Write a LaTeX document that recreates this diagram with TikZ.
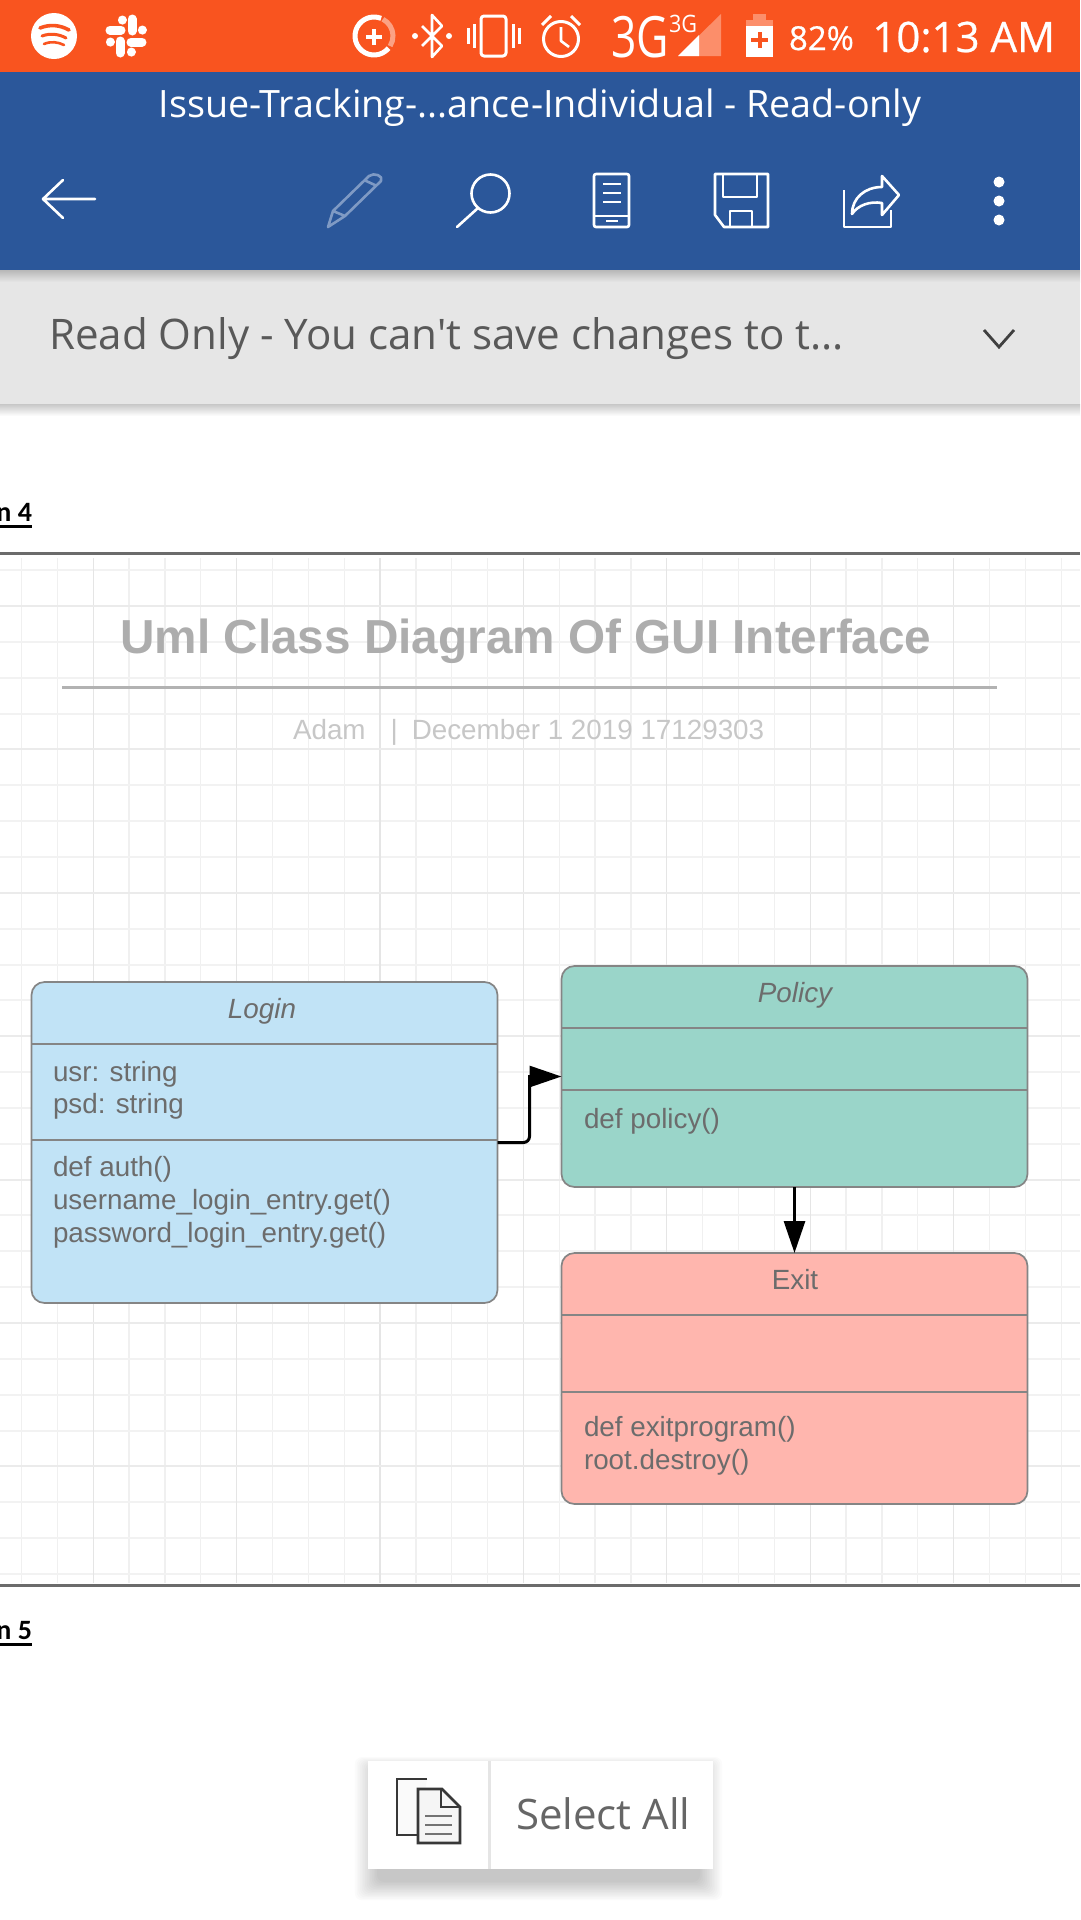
\documentclass[tikz,border=0pt]{standalone}
\usepackage{fontspec}
\usepackage{graphicx}
\setmainfont{Open Sans}
\newfontfamily\osraw{Open Sans}
\newfontfamily\osmed[FakeBold=0.6]{Open Sans}
\newfontfamily\libsans{Liberation Sans}
\newfontfamily\carl{Carlito}
\usetikzlibrary{arrows.meta}
\newcommand{\pxf}[1]{\fontsize{#1}{#1}\selectfont}
\definecolor{statusbar}{HTML}{F9541F}
\definecolor{wordblue}{HTML}{2B579A}
\definecolor{readbar}{HTML}{E6E6E6}
\definecolor{pencilblue}{HTML}{7F9AC4}
\definecolor{dimorange}{HTML}{FC8E6A}
\definecolor{loginfill}{HTML}{C1E3F6}
\definecolor{policyfill}{HTML}{9AD5C9}
\definecolor{exitfill}{HTML}{FFB6AE}
\definecolor{boxline}{HTML}{858585}
\definecolor{boxtext}{HTML}{6C6C6C}
\tikzset{
  txt/.style={inner sep=0pt,outer sep=0pt},
  uml/.style={draw=boxline,line width=1.7pt,rounded corners=13pt,inner sep=0pt,outer sep=0pt,minimum width=466pt},
  umldiv/.style={draw=boxline,line width=1.7pt},
  umltxt/.style={txt,anchor=base west,text=boxtext,font=\libsans\pxf{27.8}},
  umlhead/.style={txt,anchor=base,text=boxtext,font=\libsans\pxf{27.8}},
  minorv/.style={draw=black!6,line width=1.3pt},
  minorh/.style={draw=black!5,line width=2pt},
  majorv/.style={draw=black!10,line width=1.3pt},
  majorh/.style={draw=black!8,line width=2pt},
  icon/.style={draw=white,line width=2.6pt,line join=round},
  conn/.style={draw=black,line width=3pt,-{Triangle[length=32pt,width=21pt]}},
}
\begin{document}
\begin{tikzpicture}[x=1pt,y=-1pt]
\useasboundingbox (0,0) rectangle (1080,1920);
\fill[white] (0,0) rectangle (1080,1920);
% bars
\fill[readbar] (0,270) rectangle (1080,404);
\shade[top color=black!28,bottom color=readbar] (0,270) rectangle (1080,282);
\shade[top color=black!22,bottom color=white] (0,404) rectangle (1080,416);
\fill[statusbar] (0,0) rectangle (1080,72);
\fill[wordblue] (0,72) rectangle (1080,270);
% status icons
\fill[white] (54,36) circle (23);
\draw[statusbar,line width=3.6pt,line cap=round] (40,28) .. controls (50,24) and (60,25) .. (69,30);
\draw[statusbar,line width=3pt,line cap=round] (42,36) .. controls (50,33) and (59,34) .. (66,38);
\draw[statusbar,line width=2.6pt,line cap=round] (44,44) .. controls (51,41) and (58,42) .. (64,45);
\begin{scope}[white,line width=9pt,line cap=round]
\draw (110,30) -- (121,30); \draw (122,20) -- (122,20.1);
\draw (132,19) -- (132,31); \draw (142,30) -- (142,30.1);
\draw (131,42) -- (142,42); \draw (131,52) -- (131,52.1);
\draw (120,41) -- (120,53); \draw (110,42) -- (110,42.1);
\end{scope}
\draw[white,line width=5pt] (374,36) ++(40:19) arc (40:292:19);
\draw[white,opacity=.45,line width=5pt] (374,36) ++(-62:19) arc (-62:32:19);
\draw[white,line width=3.5pt] (366,37) -- (382,37) (374,29) -- (374,45);
\draw[icon] (422,26) -- (442,46) -- (432,57) -- (432,15) -- (442,26) -- (422,46);
\fill[white] (415,36) circle (3) (449,36) circle (3);
\draw[icon,line width=3pt,rounded corners=3pt] (481,16) rectangle (506,56);
\draw[icon,line width=3pt] (474,24) -- (474,48) (513,24) -- (513,48) (468,28) -- (468,44) (519,28) -- (519,44);
\draw[icon,line width=3pt] (561,39) circle (17.5);
\draw[icon,line width=2.6pt] (561,27) -- (561,41) -- (569,47);
\draw[icon,line width=3pt] (542,25) -- (551,16) (571,16) -- (580,25);
\node[txt,anchor=base west,text=white,font=\pxf{57}] (tg) at (611,57) {\scalebox{.78}[1]{3G}};
\node[txt,anchor=base west,text=white,font=\pxf{24}] (tgs) at (669,32) {\scalebox{.9}[1]{3G}};
\fill[dimorange] (678,56) -- (721,14) -- (721,56) -- cycle;
\fill[white] (678,56) -- (699,35) -- (699,56) -- cycle;
\fill[dimorange] (753,14) rectangle (766,20);
\fill[dimorange] (746,20) rectangle (773,26);
\fill[white] (746,26) rectangle (773,57);
\draw[statusbar,line width=4pt] (751,40) -- (768,40) (759.5,32) -- (759.5,48);
\node[txt,anchor=base west,text=white,font=\osmed\pxf{33}] (batt) at (789,50) {82\%};
\node[txt,anchor=base east,text=white,font=\osmed\pxf{42}] (clock) at (1055,52) {10:13 AM};
% title bar
\node[txt,anchor=base,text=white,font=\pxf{37.7}] (doctitle) at (540,117) {Issue-Tracking-...ance-Individual - Read-only};
% toolbar icons
\draw[icon,line cap=round] (95,199) -- (43,199) (63,180) -- (43,199) -- (63,218);
\draw[pencilblue,line width=2.6pt,line join=round] (328,227) -- (333,211) -- (369,176) .. controls (374,172) and (384,176) .. (381,181) -- (345,216) -- cycle (333,211) -- (345,216) (364,180) -- (377,186);
\draw[icon] (490.5,193.5) circle (19);
\draw[icon,line cap=round] (478,208) -- (457,227);
\draw[icon,rounded corners=2pt] (594,174) rectangle (629,227);
\draw[icon] (603,184) -- (621,184) (603,193) -- (621,193) (603,202) -- (621,202) (594,216) -- (629,216) (606,221) -- (618,221);
\draw[icon] (715,174) -- (768,174) -- (768,227) -- (724,227) -- (715,215) -- cycle;
\draw[icon] (723,174) -- (723,197) -- (757,197) -- (757,174) (730,227) -- (730,211) -- (752,211) -- (752,227);
\draw[icon] (844,190) -- (844,227) -- (891,227) -- (891,210);
\draw[icon] (852,214) .. controls (852,198) and (865,187) .. (882,187) -- (882,176) -- (899,195) -- (882,215) -- (882,203) .. controls (870,201) and (858,205) .. (852,214) -- cycle;
\fill[white] (999,182) circle (5.5) (999,201) circle (5.5) (999,220) circle (5.5);
% read only bar
\node[txt,anchor=base west,text=black!65,font=\osraw\pxf{42.1}] (readonly) at (49,349) {Read Only - You can't save changes to t...};
\draw[black!75,line width=2.8pt] (984,330) -- (999,347) -- (1014,330);
% section labels
\node[txt,anchor=base east,text=black,font=\carl\pxf{28}\bfseries] (sec4) at (32,521) {n 4};
\draw[black,line width=2.5pt] (0,526.5) -- (32,526.5);
\node[txt,anchor=base east,text=black,font=\carl\pxf{28}\bfseries] (sec5) at (32,1639) {n 5};
\draw[black,line width=2.5pt] (0,1644.5) -- (32,1644.5);
% grid
\foreach \k in {0,...,29} \draw[minorv] ({21.5+35.85*\k},558) -- ({21.5+35.85*\k},1583);
\foreach \k in {-1,...,27} \draw[minorh] (0,{606+35.85*\k}) -- (1080,{606+35.85*\k});
\foreach \k in {0,...,6} \draw[majorv] ({93.2+143.4*\k},558) -- ({93.2+143.4*\k},1583);
\foreach \k in {0,...,6} \draw[majorh] (0,{606+143.4*\k}) -- (1080,{606+143.4*\k});
% rules
\draw[black!58,line width=3pt] (0,553) -- (1080,553);
\draw[black!58,line width=3pt] (0,1585) -- (1080,1585);
% heading
\node[txt,anchor=base,text=black!32,font=\libsans\pxf{47.7}\bfseries] (heading) at (526,653) {Uml Class Diagram Of GUI Interface};
\draw[black!30,line width=3pt] (62,687) -- (997,687);
\node[txt,anchor=base west,text=black!22,font=\libsans\pxf{27.8}] (sub) at (293,739) {Adam\hspace{25pt}|\hspace{14pt}December 1 2019 17129303};
% classes
\node[uml,fill=loginfill,minimum height=321pt] (login) at (264.5,1142.5) {};
\node[uml,fill=policyfill,minimum height=221pt] (policy) at (794.5,1076.5) {};
\node[uml,fill=exitfill,minimum height=251pt] (exit) at (794.5,1378.5) {};
\draw[umldiv] (login.west |- 0,1044) -- (login.east |- 0,1044);
\draw[umldiv] (login.west |- 0,1140) -- (login.east |- 0,1140);
\draw[umldiv] (policy.west |- 0,1028) -- (policy.east |- 0,1028);
\draw[umldiv] (policy.west |- 0,1090) -- (policy.east |- 0,1090);
\draw[umldiv] (exit.west |- 0,1315) -- (exit.east |- 0,1315);
\draw[umldiv] (exit.west |- 0,1392) -- (exit.east |- 0,1392);
\node[umlhead,font=\libsans\pxf{27.8}\itshape] (logint) at (262,1018) {Login};
\node[umltxt] (l1) at (53,1081) {usr: string};
\node[umltxt] (l2) at (53,1113) {psd: string};
\node[umltxt] (l3) at (53,1176) {def auth()};
\node[umltxt] (l4) at (53,1209) {username\_login\_entry.get()};
\node[umltxt] (l5) at (53,1242) {password\_login\_entry.get()};
\node[umlhead,font=\libsans\pxf{27.8}\itshape] (policyt) at (795,1002) {Policy};
\node[umltxt] (p1) at (584,1128) {def policy()};
\node[umlhead] (exitt) at (795,1289) {Exit};
\node[umltxt] (e1) at (584,1436) {def exitprogram()};
\node[umltxt] (e2) at (584,1469) {root.destroy()};
% connectors
\draw[conn,rounded corners=6pt] (login.east) -- ++(32,0) -- ++(0,-30) [sharp corners] |- (policy.west);
\draw[conn] (policy.south) -- (exit.north);
% select all card
\foreach \i in {0,...,13}
  \fill[black,opacity=.014,rounded corners=7pt] ({377-1.7*\i},{1770-\i}) rectangle ({700+1.7*\i},{1882+1.4*\i});
\fill[white] (368,1761) rectangle (713,1869);
\draw[black!10,line width=3pt] (489,1761) -- (489,1869);
\draw[black!78,line width=2.8pt,fill=black!2] (427,1779) -- (397,1779) -- (397,1835) -- (417,1835);
\draw[black!78,line width=2.8pt,fill=black!4] (418,1789) -- (442,1789) -- (460,1807) -- (460,1843) -- (418,1843) -- cycle;
\draw[black!78,line width=2.8pt] (441,1789) -- (441,1807) -- (460,1807);
\draw[black!55,line width=2.6pt] (425,1816) -- (452,1816) (425,1825) -- (452,1825) (425,1834) -- (452,1834);
\node[txt,anchor=base west,text=black!60,font=\pxf{42}] (selall) at (516,1829) {Select All};
\end{tikzpicture}
\end{document}
